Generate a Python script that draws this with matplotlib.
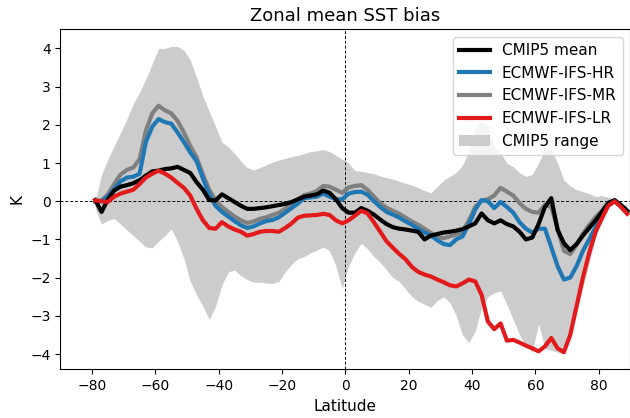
import numpy as np
import matplotlib
matplotlib.use("Agg")
import matplotlib.pyplot as plt

lat = np.arange(-79, 90, 2)

cmip5_mean = [0.03, -0.28, 0.05, 0.28, 0.38, 0.42, 0.47, 0.55, 0.67, 0.78,
              0.80, 0.84, 0.86, 0.90, 0.82, 0.74, 0.50, 0.30, 0.03, 0.02,
              0.18, 0.08, -0.02, -0.12, -0.20, -0.20, -0.18, -0.16, -0.13, -0.10,
              -0.07, -0.02, 0.05, 0.12, 0.15, 0.18, 0.28, 0.22, 0.05, -0.18,
              -0.30, -0.30, -0.18, -0.25, -0.35, -0.48, -0.60, -0.68, -0.72, -0.74,
              -0.77, -0.80, -1.00, -0.90, -0.86, -0.82, -0.80, -0.77, -0.73, -0.66,
              -0.58, -0.32, -0.50, -0.58, -0.50, -0.60, -0.66, -0.80, -1.00, -0.95,
              -0.60, -0.15, 0.08, -0.75, -1.10, -1.28, -1.12, -0.90, -0.70, -0.50,
              -0.28, -0.05, 0.03, -0.10, -0.25]

ifs_hr = [0.00, 0.00, 0.12, 0.32, 0.52, 0.62, 0.64, 0.72, 1.55, 1.95,
          2.15, 2.07, 2.03, 1.80, 1.55, 1.28, 1.05, 0.60, 0.18, -0.12,
          -0.28, -0.40, -0.52, -0.63, -0.70, -0.66, -0.58, -0.52, -0.49, -0.42,
          -0.30, -0.18, -0.06, 0.08, 0.10, 0.12, 0.20, 0.12, 0.05, 0.05,
          0.20, 0.24, 0.25, 0.17, 0.00, -0.15, -0.28, -0.35, -0.43, -0.53,
          -0.62, -0.72, -0.82, -0.90, -1.02, -1.12, -1.15, -1.00, -0.92, -0.60,
          -0.22, 0.03, 0.00, -0.18, -0.02, -0.15, -0.30, -0.55, -0.72, -0.82,
          -0.72, -0.72, -1.20, -1.70, -2.05, -2.00, -1.70, -1.30, -1.00, -0.68,
          -0.35, -0.08, 0.00, -0.12, -0.28]

ifs_mr = [0.00, 0.02, 0.18, 0.45, 0.70, 0.82, 0.88, 1.10, 1.85, 2.30,
          2.50, 2.38, 2.30, 2.10, 1.80, 1.45, 1.15, 0.70, 0.30, 0.02,
          -0.15, -0.28, -0.40, -0.50, -0.57, -0.53, -0.46, -0.42, -0.36, -0.30,
          -0.20, -0.07, 0.05, 0.16, 0.20, 0.27, 0.40, 0.38, 0.30, 0.22,
          0.36, 0.40, 0.42, 0.30, 0.12, -0.05, -0.17, -0.25, -0.33, -0.43,
          -0.53, -0.62, -0.72, -0.83, -0.93, -0.97, -0.92, -0.87, -0.80, -0.50,
          -0.15, 0.02, 0.05, 0.15, 0.35, 0.25, 0.15, -0.05, -0.20, -0.28,
          -0.30, -0.10, -0.15, -0.70, -1.30, -1.38, -1.15, -0.85, -0.62, -0.42,
          -0.25, -0.03, 0.00, -0.12, -0.28]

ifs_lr = [0.02, 0.00, -0.02, 0.12, 0.20, 0.25, 0.30, 0.45, 0.62, 0.72,
          0.80, 0.72, 0.62, 0.48, 0.35, 0.15, -0.20, -0.50, -0.70, -0.72,
          -0.55, -0.66, -0.74, -0.80, -0.90, -0.86, -0.80, -0.78, -0.78, -0.80,
          -0.70, -0.58, -0.43, -0.38, -0.37, -0.36, -0.33, -0.36, -0.50, -0.58,
          -0.50, -0.38, -0.25, -0.32, -0.55, -0.80, -1.05, -1.22, -1.38, -1.52,
          -1.72, -1.85, -1.92, -1.97, -2.05, -2.12, -2.20, -2.23, -2.15, -2.05,
          -2.10, -2.45, -3.15, -3.35, -3.20, -3.65, -3.63, -3.70, -3.78, -3.85,
          -3.93, -3.80, -3.58, -3.85, -3.95, -3.50, -2.75, -2.00, -1.35, -0.80,
          -0.45, -0.12, 0.00, -0.15, -0.33]

range_max = [0.00, 0.70, 1.10, 1.45, 1.80, 2.15, 2.55, 2.85, 3.20, 3.60,
             4.00, 4.00, 4.05, 4.05, 3.95, 3.70, 3.25, 2.75, 2.35, 1.95,
             1.55, 1.42, 1.25, 1.05, 0.88, 0.82, 0.88, 0.95, 1.02, 1.08,
             1.12, 1.17, 1.20, 1.25, 1.30, 1.32, 1.35, 1.30, 1.20, 1.10,
             1.00, 0.80, 0.78, 0.75, 0.72, 0.66, 0.62, 0.58, 0.52, 0.47,
             0.42, 0.35, 0.28, 0.22, 0.38, 0.55, 0.65, 0.75, 0.95, 1.30,
             1.90, 2.10, 2.00, 1.40, 1.25, 1.00, 0.90, 0.75, 0.65, 0.70,
             1.00, 1.35, 1.35, 1.00, 0.55, 0.40, 0.30, 0.25, 0.20, 0.12,
             0.15, 0.10, 0.05, -0.05, -0.10]

range_min = [-0.20, -0.60, -0.50, -0.45, -0.60, -0.75, -0.90, -1.05, -1.20, -1.22,
             -1.05, -0.90, -0.72, -1.05, -1.50, -2.10, -2.45, -2.75, -3.10, -2.75,
             -2.20, -1.85, -1.80, -1.95, -2.05, -2.12, -2.12, -2.14, -2.15, -2.10,
             -1.85, -1.65, -1.50, -1.45, -1.35, -1.28, -1.20, -1.30, -1.70, -2.28,
             -1.70, -1.35, -1.10, -1.25, -1.45, -1.60, -1.80, -2.00, -2.10, -2.30,
             -2.50, -2.62, -2.70, -2.78, -2.60, -2.50, -2.65, -3.00, -3.50, -3.70,
             -3.40, -2.80, -2.50, -2.40, -2.35, -2.70, -3.10, -3.50, -3.80, -3.95,
             -3.20, -3.85, -3.90, -3.95, -4.00, -3.55, -2.90, -2.25, -1.60, -0.95,
             -0.50, -0.15, -0.05, -0.20, -0.40]

xticks = [-80, -60, -40, -20, 0, 20, 40, 60, 80]
yticks = [-4, -3, -2, -1, 0, 1, 2, 3, 4]

fig = plt.figure(figsize=(6.3, 4.18), dpi=100)
ax = fig.add_axes([60.4 / 630, 1 - 369.3 / 418, 570 / 630, 340 / 418])

h_range = ax.fill_between(lat, range_min, range_max, color="#cccccc", lw=0,
                          label="CMIP5 range", zorder=1)
ax.axhline(0, color="black", lw=0.7, ls=(0, (3, 2)), zorder=1.5)
ax.axvline(0, color="black", lw=0.7, ls=(0, (3, 2)), zorder=1.5)

h_mr, = ax.plot(lat, ifs_mr, color="#808080", lw=3, label="ECMWF-IFS-MR", zorder=3)
h_hr, = ax.plot(lat, ifs_hr, color="#1f77b4", lw=3, label="ECMWF-IFS-HR", zorder=4)
h_mean, = ax.plot(lat, cmip5_mean, color="black", lw=3, label="CMIP5 mean", zorder=5)
h_lr, = ax.plot(lat, ifs_lr, color="#e31a1c", lw=3, label="ECMWF-IFS-LR", zorder=6)

ax.set_xlim(-90, 90)
ax.set_ylim(-4.4, 4.5)
ax.set_xticks(xticks)
ax.set_yticks(yticks)
ax.tick_params(labelsize=10)
ax.set_xlabel("Latitude", fontsize=11)
ax.set_ylabel("K", fontsize=11)
ax.set_title("Zonal mean SST bias", fontsize=13)

ax.legend(handles=[h_mean, h_hr, h_mr, h_lr, h_range], loc="upper right",
          fontsize=11)

fig.savefig("out.png", dpi=100)
